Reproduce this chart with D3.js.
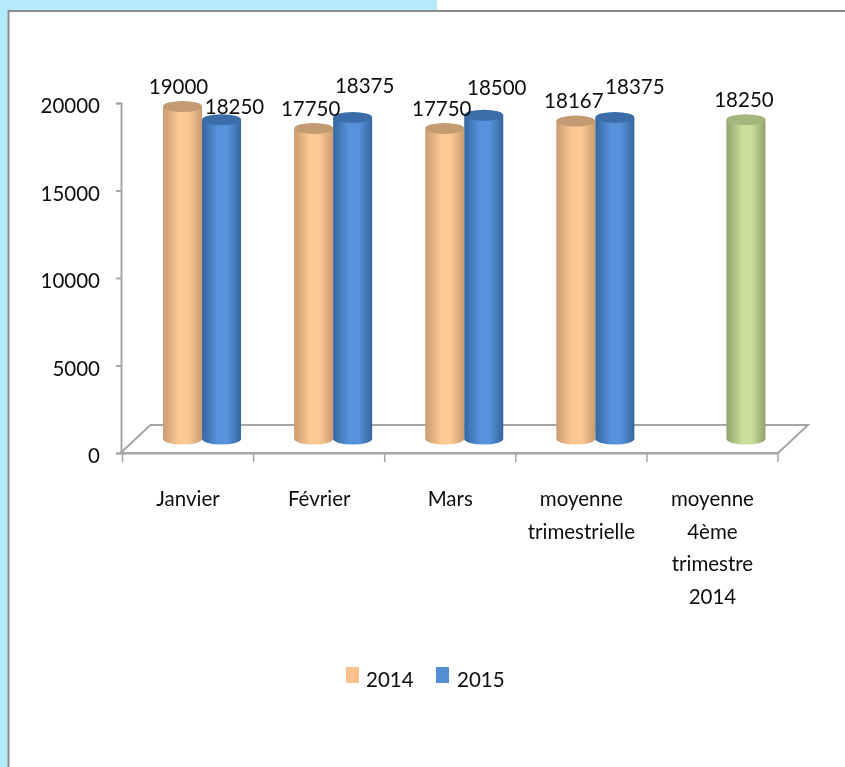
<!DOCTYPE html>
<html>
<head>
<meta charset="utf-8">
<script src="https://cdn.jsdelivr.net/npm/d3@7"></script>
<style>
  html, body { margin: 0; padding: 0; background: #fff; }
  svg { display: block; }
  text { font-family: Lato, "Open Sans", sans-serif; font-size: 20.5px; fill: #111; }
</style>
</head>
<body>
<div id="chart"></div>
<script>
const categories = ["Janvier", "Février", "Mars", "moyenne trimestrielle", "moyenne 4ème trimestre 2014"];
const seriesNames = ["2014", "2015"];
const values2014 = [19000, 17750, 17750, 18167, null];
const values2015 = [18250, 18375, 18500, 18375, 18250];
const yTicks = [0, 5000, 10000, 15000, 20000];

// Labels were moved by hand in the original, so each one has its own nudge
const labelNudge2014 = [[-5, -12.5], [-4, -12.4], [-4, -12.4], [-3, -13], [0, 0]];
const labelNudge2015 = [[12, -5.6], [11, -24.4], [12, -20], [19, -23.4], [-3, -12.6]];

const width = 845, height = 767;
const depthX = 15, depthY = 14; // half of the floor depth
const barRy = 5.5;

const svg = d3.select("#chart").append("svg").attr("width", width).attr("height", height);
const defs = svg.append("defs");

function gradient(id, edge, mid) {
  const g = defs.append("linearGradient").attr("id", id);
  g.append("stop").attr("offset", "0%").attr("stop-color", edge);
  g.append("stop").attr("offset", "40%").attr("stop-color", mid);
  g.append("stop").attr("offset", "65%").attr("stop-color", mid);
  g.append("stop").attr("offset", "100%").attr("stop-color", edge);
}
gradient("orange", "#c99b70", "#fcc893");
gradient("blue", "#34669f", "#5892dc");
gradient("green", "#8ea26a", "#cbdd9b");
defs.append("filter").attr("id", "soft").append("feGaussianBlur").attr("stdDeviation", 0.7);
defs.append("filter").attr("id", "softText").append("feGaussianBlur").attr("stdDeviation", 0.3);

// page background and frame
svg.append("rect").attr("x", 0).attr("y", 0).attr("width", 437).attr("height", 11).attr("fill", "#b5eafb");
svg.append("rect").attr("x", 0).attr("y", 0).attr("width", 8).attr("height", height).attr("fill", "#b5eafb");
svg.append("path").attr("d", `M8.5 ${height}V11H${width}`).attr("fill", "none").attr("stroke", "#8c8c8c").attr("stroke-width", 2);

const x = d3.scaleBand().domain(categories).range([122.5, 778]);
const xSeries = d3.scaleBand().domain(seriesNames).range([x.bandwidth() / 2 - 39, x.bandwidth() / 2 + 39]);
const y = d3.scaleLinear().domain([0, 20000]).range([453, 103]);

const axisColor = "#a6a6a6";

// floor
svg.append("path")
  .attr("d", `M${x.range()[0] - 2} ${y(0)}L${x.range()[0] - 2 + 2 * depthX} ${y(0) - 2 * depthY}H${x.range()[1] + 2 * depthX}L${x.range()[1]} ${y(0)}Z`)
  .attr("fill", "none").attr("stroke", axisColor).attr("stroke-width", 2);

const yAxis = svg.append("g").attr("transform", "translate(121,0)")
  .call(d3.axisLeft(y).tickValues(yTicks).tickFormat(d3.format("d")).tickSize(5).tickPadding(16));
const xAxis = svg.append("g").attr("transform", `translate(0,${y(0)})`)
  .call(d3.axisBottom(x).tickSize(0).tickFormat(""));
[yAxis, xAxis].forEach(a => {
  a.selectAll("path.domain").attr("stroke", axisColor).attr("stroke-width", 2);
  a.selectAll("line").attr("stroke", axisColor).attr("stroke-width", 2);
});
yAxis.attr("font-size", null).attr("font-family", null);
yAxis.selectAll("text").attr("text-anchor", "end").attr("dy", 9.7);

// category tick marks sit on the band edges
svg.append("g").selectAll("line")
  .data(categories.concat("end"))
  .join("line")
  .attr("x1", d => d === "end" ? x.range()[1] : x(d))
  .attr("x2", d => d === "end" ? x.range()[1] : x(d))
  .attr("y1", y(0))
  .attr("y2", y(0) + 9)
  .attr("stroke", axisColor)
  .attr("stroke-width", 1.5);

// category labels, wrapped as in the original
const wrapped = [["Janvier"], ["Février"], ["Mars"], ["moyenne", "trimestrielle"], ["moyenne", "4ème", "trimestre", "2014"]];
categories.forEach((c, i) => {
  const t = svg.append("text").attr("text-anchor", "middle").attr("y", 506);
  wrapped[i].forEach((line, j) => {
    t.append("tspan").attr("x", x(c) + x.bandwidth() / 2).attr("dy", j ? 32.6 : 0).text(line);
  });
});

// cylinders
const points = [];
categories.forEach((c, i) => {
  if (values2014[i] != null) points.push({ c, s: "2014", v: values2014[i], fill: "orange", top: "#c49a72", nudge: labelNudge2014[i] });
  // the last 2015 point was recoloured green in the original
  points.push({ c, s: "2015", v: values2015[i], fill: i === 4 ? "green" : "blue", top: i === 4 ? "#a4b67c" : "#3a6ea9", nudge: labelNudge2015[i] });
});

const bars = svg.append("g").attr("filter", "url(#soft)").selectAll("g").data(points).join("g")
  .attr("transform", d => `translate(${x(d.c) + xSeries(d.s) + depthX - 1},${-depthY})`);
bars.append("path")
  .attr("d", d => {
    const w = xSeries.bandwidth(), rx = w / 2;
    return `M0 ${y(d.v)}V${y(0)}A${rx} ${barRy} 0 0 0 ${w} ${y(0)}V${y(d.v)}Z`;
  })
  .attr("fill", d => `url(#${d.fill})`);
bars.append("ellipse")
  .attr("cx", xSeries.bandwidth() / 2)
  .attr("cy", d => y(d.v))
  .attr("rx", xSeries.bandwidth() / 2)
  .attr("ry", barRy)
  .attr("fill", d => d.top);

// value labels
svg.append("g").selectAll("text").data(points).join("text")
  .attr("text-anchor", "middle")
  .attr("x", d => x(d.c) + xSeries(d.s) + depthX + xSeries.bandwidth() / 2 + d.nudge[0])
  .attr("y", d => y(d.v) - depthY + d.nudge[1])
  .text(d => d.v);

// legend
const legendX = d3.scalePoint().domain(seriesNames).range([346, 436]);
const legend = svg.append("g").selectAll("g").data(seriesNames).join("g")
  .attr("transform", d => `translate(${legendX(d)},667)`);
legend.append("rect").attr("width", 13).attr("height", 16).attr("fill", (d, i) => ["#fcc08c", "#558ed5"][i]);
legend.append("text").attr("x", (d, i) => [20, 21][i]).attr("y", 20).text(d => d);

svg.selectAll("text").attr("filter", "url(#softText)");
</script>
</body>
</html>
